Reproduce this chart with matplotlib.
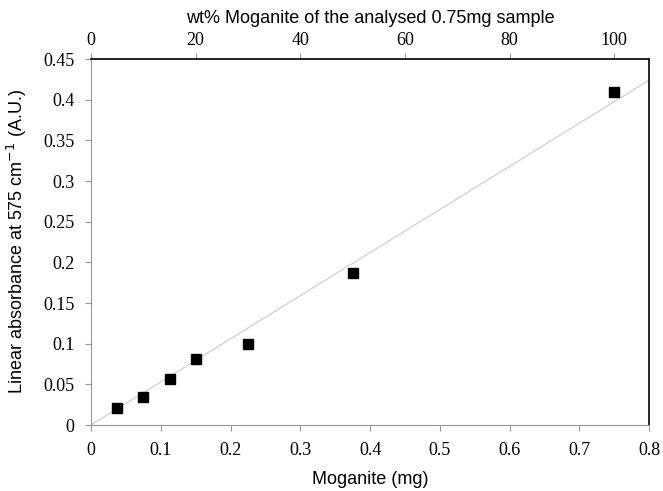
import numpy as np
import matplotlib
matplotlib.use("Agg")
import matplotlib.pyplot as plt

# Calibration data: moganite mass (mg) vs linear absorbance at 575 cm-1
moganite_mg = [0.0375, 0.075, 0.1125, 0.15, 0.225, 0.375, 0.75]
absorbance = [0.021, 0.035, 0.057, 0.081, 0.099, 0.187, 0.410]
sample_mass = 0.75

x_ticks = [0, 0.1, 0.2, 0.3, 0.4, 0.5, 0.6, 0.7, 0.8]
x_tick_labels = ["0", "0.1", "0.2", "0.3", "0.4", "0.5", "0.6", "0.7", "0.8"]
y_ticks = [0, 0.05, 0.1, 0.15, 0.2, 0.25, 0.3, 0.35, 0.4, 0.45]
y_tick_labels = ["0", "0.05", "0.1", "0.15", "0.2", "0.25", "0.3", "0.35", "0.4", "0.45"]
top_ticks = [0, 20, 40, 60, 80, 100]

serif = "Liberation Serif"
sans = "Liberation Sans"

# linear trend forced through the origin
x = np.array(moganite_mg)
y = np.array(absorbance)
slope = np.sum(x * y) / np.sum(x * x)
fit_x = np.array([0, 0.8])

fig = plt.figure(figsize=(6.63, 4.91), dpi=100)
ax = fig.add_axes([0.1373, 0.1344, 0.8417, 0.7454])

ax.plot(fit_x, slope * fit_x, color="#d0d0d0", linewidth=0.9, zorder=1)
ax.plot(moganite_mg, absorbance, linestyle="none", marker="s", markersize=7,
        color="black", zorder=3)

ax.set_xlim(0, 0.8)
ax.set_ylim(0, 0.45)
ax.set_xticks(x_ticks)
ax.set_xticklabels(x_tick_labels, fontfamily=serif, fontsize=13)
ax.set_yticks(y_ticks)
ax.set_yticklabels(y_tick_labels, fontfamily=serif, fontsize=13)
ax.tick_params(direction="out", length=4, color="#999999", pad=8)

for side in ["left", "bottom"]:
    ax.spines[side].set_color("#999999")
for side in ["top", "right"]:
    ax.spines[side].set_color("black")
    ax.spines[side].set_linewidth(1.2)

ax.set_xlabel("Moganite (mg)", fontfamily=sans, fontsize=13, labelpad=9)
ax.set_ylabel("Linear absorbance at 575 cm$^{-1}$ (A.U.)", fontfamily=sans,
              fontsize=13, labelpad=10)

top = ax.secondary_xaxis("top", functions=(lambda v: v / sample_mass * 100,
                                           lambda v: v / 100 * sample_mass))
top.set_xticks(top_ticks)
top.set_xticklabels([str(t) for t in top_ticks], fontfamily=serif, fontsize=13)
top.tick_params(direction="out", length=4, color="#999999", pad=3)
top.spines["top"].set_visible(False)
top.set_xlabel("wt% Moganite of the analysed 0.75mg sample", fontfamily=sans,
               fontsize=13, labelpad=7)

fig.savefig("out.png", dpi=100)
